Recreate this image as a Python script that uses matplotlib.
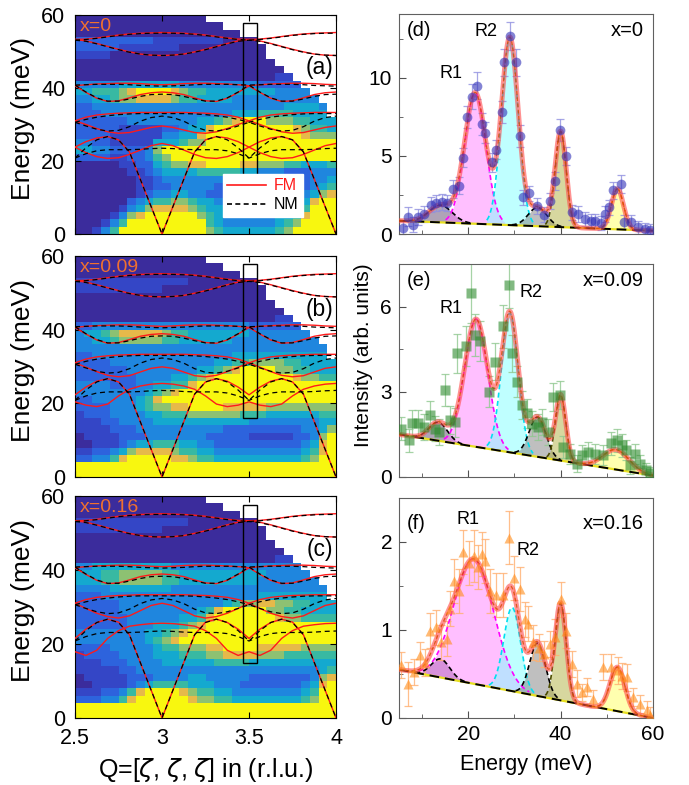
'''
    Inelastic maps along Q=[z,z,z] for three dopings (left column) and the
    energy cuts through the L point with their Gaussian fits (right column).
    The figure is written to out.png.
'''

import numpy as np
import matplotlib
matplotlib.use('Agg')
import matplotlib.pyplot as plt
from matplotlib.colors import ListedColormap
from matplotlib.lines import Line2D
from matplotlib.patches import Rectangle

plt.rcParams['font.family'] = ['Liberation Sans', 'DejaVu Sans']

_OUT_PNG = 'out.png'

DOPINGS = ['x=0', 'x=0.09', 'x=0.16']
MAP_TAGS = ['(a)', '(b)', '(c)']
CUT_TAGS = ['(d)', '(e)', '(f)']

Q_RANGE = (2.5, 4.0)
E_RANGE = (0, 60)
Q_TICKS = [2.5, 3, 3.5, 4]
Q_TICKLABELS = ['2.5', '3', '3.5', '4']
E_TICKS = [0, 20, 40, 60]

# ---- Intensity maps: one char per cell (0.05 r.l.u. x 2 meV), top row = 58-60 meV.
#      '.' = not measured, '0'..'8' = colour level (dark blue .. yellow)
MAP_A = [
    '000000000000000 ...............',
    '00000000000000000 .............',
    '0000000000000000000 ...........',
    '222222222111111110000 .........',
    '2222211111110000000000 ........',
    '1111000000000000000000 ........',
    '00000000000000000000000 .......',
    '000000000000000000000000 ......',
    '0000000000000000000000011 .....',
    '33333444444433333333322222 ....',
    '445556788887655444444443333 ...',
    '3344566777765544443333333333 ..',
    '22 3333333333333333333333 4444 3 .',
    '222 333333333333333 444 5555 4444 .',
    '222222 33333333 4456 7888 6665 5444',
    '22222 11111 22344 7888888888 76554',
    '2222 111111 3344 78888888888 87 666',
    '3322 11111 4445 66 888888888888888',
    '4433 22223 6 88888888888888888888',
    '2222 11223 56 8888888888888888888',
    '00000 1122 4566 77888877 666554445',
    '00000 0112 3444 45555544 33322 2333',
    '00000 0011 2333 33333322 22222 2334',
    '00000 0011 2233 33322211 11112 2345',
    '00000 0012 3344 33222111 11112 3467',
    '00000 0234 5566 54432221 11223 4788',
    '00000 1346 7777 65443332 22334 5888',
    '00001 3678 8888 86543333 33445 7888',
    '00013 5888 8888 88543333 33456 8888',
    '00135 8888 8888 88654444 44568 8888',
]
MAP_B = [
    '000000000000000 ...............',
    '00000000000000000 .............',
    '0000000000000000000 ...........',
    '111111111111100000000 .........',
    '1111111111000000000000 ........',
    '0000000000000000000000 ........',
    '00000000000000000000000 .......',
    '000000000000000000000000 ......',
    '0000000000000000000000011 .....',
    '22 333333333333333333 222222 ....',
    '3445677777 6554444444 3333333 ...',
    '3344566666 5544444433 33333333 ..',
    '33333333333333333333333333333 .',
    '22 3333333333333333 44444444444 .',
    '2222 333333333333 4455 6666 5544 44',
    '222222 33333333 4456 7888 8665 5444',
    '2222 22233 3344 567888888888 7665 5',
    '3333 22233 4455 788888888888888 88',
    '3333 3333 4567 888888888888888888',
    '2233 3334 5788 888888888888888888',
    '2222 3334 5667 788887777766666666',
    '1222 3333 4455 566666655544444455',
    '1112 2333 3444 444444443333333344',
    '1111 2223 3333 333332222222223346',
    '0111 1222 3333 333222221111122368',
    '0011 1234 4555 443322222222223478',
    '1122 3467 7776 554433333333334578',
    '2233 5788 8887 765544444444445688',
    '888888888888888888888888888888',
    '888888888888888888888888888888',
]
MAP_C = [
    '000000000000000 ...............',
    '00000000000000000 .............',
    '0000000000000000000 ...........',
    '111111111111100000000 .........',
    '1111111111000000000000 ........',
    '0000000000000000000000 ........',
    '00000000000000000000000 .......',
    '000000000000000000000000 ......',
    '0000000000000000000000011 .....',
    '33 444444444 333333333333333 ....',
    '4445566666 5544444444 4433333 ...',
    '4445566666 5544444444 43333333 ..',
    '3333 4444444 333333333333333333 .',
    '222 333333333333333333 44444444 .',
    '22222 333333333333 4566776655444',
    '22222 33333 3333 4578 8888 6655 4444',
    '22222 23333 3344 5788 8888 8766 5555',
    '22222 23334 4456 7888 8888 8888 8888',
    '33333 33344 5678 8888 8888 8888 8888',
    '33333 33345 6788 8888 8888 8888 8888',
    '22223 33334 5566 6778 8887 7777 6666',
    '12222 33334 4455 5667 7776 6655 5555',
    '11122 23333 4444 4455 5544 4444 4444',
    '11111 22333 3333 3333 3333 3333 3345',
    '01111 12223 3334 4333 3322 2222 2367',
    '00111 12345 5554 4433 3222 2222 3478',
    '11122 35788 8876 5544 3333 3333 4588',
    '22233 57888 8887 6655 4444 4444 5688',
    '888888888888888888888888888888',
    '888888888888888888888888888888',
]
MAPS = [MAP_A, MAP_B, MAP_C]

# Parula-like colour levels used by the maps
LEVEL_COLOURS = ['#3b2c9c', '#3446c6', '#2d63dd', '#1f86de', '#14a9cf',
                 '#38b9a2', '#8dc172', '#e6b94a', '#f8f70f']

# ---- Calculated dispersion (meV) on this Q grid
Q_DISP = [2.5, 2.5625, 2.625, 2.6875, 2.75, 2.8125, 2.875, 2.9375, 3.0,
          3.0625, 3.125, 3.1875, 3.25, 3.3125, 3.375, 3.4375, 3.5,
          3.5625, 3.625, 3.6875, 3.75, 3.8125, 3.875, 3.9375, 4.0]

FM_TOP1 = [53.3, 53.4, 53.7, 54.1, 54.5, 54.8, 55.0, 55.1, 55.2, 55.1, 55.0, 54.8, 54.5,
           54.1, 53.7, 53.4, 53.3, 53.4, 53.7, 54.1, 54.5, 54.8, 55.0, 55.1, 55.2]
FM_TOP2 = [53.3, 52.9, 52.2, 51.4, 50.6, 49.9, 49.3, 49.0, 48.9, 49.0, 49.3, 49.9, 50.6,
           51.4, 52.2, 52.9, 53.3, 52.9, 52.2, 51.4, 50.6, 49.9, 49.3, 49.0, 48.9]
FM_41 = [40.6, 40.9, 41.1, 41.2, 41.3, 41.3, 41.2, 41.0, 40.9, 41.0, 41.2, 41.3, 41.3,
         41.2, 41.1, 40.9, 40.6, 40.9, 41.1, 41.2, 41.3, 41.3, 41.2, 41.0, 40.9]
FM_38 = [40.6, 38.8, 37.2, 36.3, 36.5, 37.3, 38.2, 38.7, 38.9, 38.7, 38.2, 37.3, 36.5,
         36.3, 37.2, 38.8, 40.6, 38.8, 37.2, 36.3, 36.5, 37.3, 38.2, 38.7, 38.9]
FM_33 = [31.0, 32.0, 32.6, 32.9, 33.1, 33.2, 33.3, 33.3, 33.3, 33.3, 33.3, 33.2, 33.1,
         32.9, 32.6, 32.0, 31.0, 32.0, 32.6, 32.9, 33.1, 33.2, 33.3, 33.3, 33.3]
# Branches that move with doping: (a), (b), (c)
FM_29 = [
    [31.0, 30.0, 28.9, 28.0, 27.6, 27.8, 28.5, 29.2, 29.6, 29.2, 28.5, 27.8, 27.6,
     28.0, 28.9, 30.0, 31.0, 30.0, 28.9, 28.0, 27.6, 27.8, 28.5, 29.2, 29.6],
    [31.0, 29.8, 28.6, 27.6, 27.2, 27.5, 28.5, 29.5, 29.9, 29.5, 28.5, 27.5, 27.2,
     27.6, 28.6, 29.8, 31.0, 29.8, 28.6, 27.6, 27.2, 27.5, 28.5, 29.5, 29.9],
    [31.0, 29.6, 28.3, 27.4, 27.0, 27.6, 29.0, 30.4, 31.0, 30.4, 29.0, 27.6, 27.0,
     27.4, 28.3, 29.6, 31.0, 29.6, 28.3, 27.4, 27.0, 27.6, 29.0, 30.4, 31.0],
]
FM_ACOUSTIC = [
    [23.8, 25.3, 26.3, 26.7, 25.8, 22.5, 15.0, 7.5, 0.0, 7.5, 15.0, 22.5, 25.8,
     26.7, 26.3, 25.3, 23.8, 25.3, 26.3, 26.7, 25.8, 22.5, 15.0, 7.5, 0.0],
    [22.3, 24.4, 26.0, 26.7, 25.8, 22.5, 15.0, 7.5, 0.0, 7.5, 15.0, 22.5, 25.8,
     26.7, 26.0, 24.4, 22.3, 24.4, 26.0, 26.7, 25.8, 22.5, 15.0, 7.5, 0.0],
    [21.5, 24.0, 25.8, 26.7, 25.9, 22.5, 15.0, 7.5, 0.0, 7.5, 15.0, 22.5, 25.9,
     26.7, 25.8, 24.0, 21.5, 24.0, 25.8, 26.7, 25.9, 22.5, 15.0, 7.5, 0.0],
]
FM_22 = [
    [23.8, 22.3, 21.2, 20.7, 20.9, 21.8, 23.0, 24.2, 24.8, 24.2, 23.0, 21.8, 20.9,
     20.7, 21.2, 22.3, 23.8, 22.3, 21.2, 20.7, 20.9, 21.8, 23.0, 24.2, 24.8],
    [20.4, 19.5, 19.1, 19.8, 22.0, 23.8, 24.7, 25.2, 25.4, 25.2, 24.7, 23.8, 22.0,
     19.8, 19.1, 19.5, 20.4, 19.5, 19.1, 19.8, 22.0, 23.8, 24.7, 25.2, 25.4],
    [17.9, 16.9, 18.3, 21.5, 23.6, 24.8, 25.2, 25.5, 25.6, 25.5, 25.2, 24.8, 23.6,
     21.5, 18.3, 16.9, 17.9, 16.9, 18.3, 21.5, 23.6, 24.8, 25.2, 25.5, 25.6],
]

NM_TOP1 = [53.1, 53.3, 53.6, 54.0, 54.4, 54.7, 54.9, 55.0, 55.0, 55.0, 54.9, 54.7, 54.4,
           54.0, 53.6, 53.3, 53.1, 53.3, 53.6, 54.0, 54.4, 54.7, 54.9, 55.0, 55.0]
NM_TOP2 = [53.1, 52.8, 52.1, 51.3, 50.5, 49.8, 49.3, 49.0, 48.9, 49.0, 49.3, 49.8, 50.5,
           51.3, 52.1, 52.8, 53.1, 52.8, 52.1, 51.3, 50.5, 49.8, 49.3, 49.0, 48.9]
NM_41 = [40.8, 40.9, 41.0, 41.0, 41.0, 40.9, 40.7, 40.6, 40.5, 40.6, 40.7, 40.9, 41.0,
         41.0, 41.0, 40.9, 40.8, 40.9, 41.0, 41.0, 41.0, 40.9, 40.7, 40.6, 40.5]
NM_38 = [40.8, 38.9, 37.3, 36.4, 36.4, 37.0, 37.7, 38.2, 38.3, 38.2, 37.7, 37.0, 36.4,
         36.4, 37.3, 38.9, 40.8, 38.9, 37.3, 36.4, 36.4, 37.0, 37.7, 38.2, 38.3]
NM_33 = [30.6, 31.4, 32.0, 32.4, 32.7, 32.9, 33.0, 33.0, 33.0, 33.0, 33.0, 32.9, 32.7,
         32.4, 32.0, 31.4, 30.6, 31.4, 32.0, 32.4, 32.7, 32.9, 33.0, 33.0, 33.0]
NM_29 = [30.6, 29.6, 28.7, 28.2, 28.4, 29.4, 30.9, 31.9, 32.3, 31.9, 30.9, 29.4, 28.4,
         28.2, 28.7, 29.6, 30.6, 29.6, 28.7, 28.2, 28.4, 29.4, 30.9, 31.9, 32.3]
NM_ACOUSTIC = [20.8, 23.6, 25.8, 26.7, 25.8, 22.5, 15.0, 7.5, 0.0, 7.5, 15.0, 22.5, 25.8,
               26.7, 25.8, 23.6, 20.8, 23.6, 25.8, 26.7, 25.8, 22.5, 15.0, 7.5, 0.0]
NM_22 = [20.8, 22.0, 22.8, 23.1, 23.1, 23.1, 23.2, 23.4, 23.5, 23.4, 23.2, 23.1, 23.1,
         23.1, 22.8, 22.0, 20.8, 22.0, 22.8, 23.1, 23.1, 23.1, 23.2, 23.4, 23.5]

# Constant-Q window used for the cuts: Q range and E range per panel
CUT_Q = (3.464, 3.544)
CUT_E = [(15.5, 57.7), (15.9, 57.8), (14.8, 57.6)]

# ---- Energy cuts (meV, intensity, error)
D_E = [5.9, 7.0, 8.1, 9.1, 10.4, 11.9, 13.1, 14.3, 15.5, 16.7, 17.9, 18.8, 19.7, 20.8,
       21.9, 23.0, 23.7, 25.1, 26.0, 27.4, 27.8, 29.1, 30.3, 31.2, 31.8, 33.2, 34.8,
       36.3, 37.7, 38.8, 39.9, 41.1, 42.4, 43.8, 45.3, 46.5, 47.4, 48.8, 49.7, 50.5,
       51.4, 53.0, 53.7, 55.2, 56.8, 58.2, 59.3]
D_I = [0.36, 1.1, 0.6, 1.1, 1.28, 1.88, 2.0, 2.07, 1.98, 2.88, 3.09, 4.9, 7.5, 8.8,
       9.5, 7.04, 6.5, 4.6, 5.4, 7.8, 11.0, 12.7, 11.0, 6.3, 2.35, 2.6, 1.8, 1.24, 2.13,
       3.4, 6.65, 5.0, 1.39, 1.28, 0.96, 0.85, 0.85, 0.68, 1.28, 1.7, 2.8, 3.2, 0.75,
       0.75, 0.43, 0.32, 0.26]
D_ERR = [0.5, 0.6, 0.5, 0.5, 0.5, 0.5, 0.5, 0.5, 0.5, 0.55, 0.55, 0.6, 0.7, 0.8, 0.85,
         0.7, 0.7, 0.6, 0.6, 0.7, 0.85, 0.9, 0.85, 0.7, 0.5, 0.5, 0.5, 0.5, 0.5, 0.55,
         0.7, 0.6, 0.5, 0.5, 0.45, 0.45, 0.45, 0.45, 0.5, 0.5, 0.55, 0.6, 0.45, 0.45,
         0.4, 0.4, 0.4]

E_E = [5.5, 7.1, 7.8, 9.1, 10.4, 11.7, 12.7, 13.6, 15.0, 16.1, 17.2, 17.6, 19.6, 20.6,
       21.5, 22.6, 24.4, 25.7, 27.6, 28.9, 29.4, 30.5, 31.6, 32.7, 33.7, 35.0, 35.9,
       37.3, 38.4, 39.9, 40.6, 42.0, 43.6, 44.7, 46.0, 47.4, 49.2, 50.9, 52.1, 53.2,
       54.1, 55.0, 56.1, 57.1, 58.4, 59.3]
E_I = [1.7, 1.29, 1.9, 1.9, 1.76, 2.18, 1.7, 1.59, 3.06, 2.0, 1.92, 4.35, 4.6, 6.47,
       5.0, 4.8, 3.0, 4.06, 5.3, 6.76, 4.35, 3.35, 2.53, 2.24, 1.88, 1.76, 1.94, 1.59,
       2.82, 2.88, 1.06, 0.82, 0.47, 0.76, 0.88, 0.82, 0.76, 1.18, 1.29, 1.12, 0.94,
       0.41, 0.8, 0.47, 0.24, 0.14]
E_ERR = [0.4, 0.4, 0.45, 0.45, 0.45, 0.5, 0.45, 0.45, 0.55, 0.5, 0.5, 0.7, 0.7, 1.05,
         0.75, 0.7, 0.55, 0.65, 0.75, 0.8, 0.65, 0.55, 0.5, 0.5, 0.45, 0.45, 0.45, 0.45,
         0.5, 0.5, 0.4, 0.35, 0.3, 0.35, 0.35, 0.35, 0.35, 0.4, 0.4, 0.4, 0.35, 0.3,
         0.35, 0.3, 0.25, 0.2]

F_E = [5.5, 7.0, 8.2, 9.6, 10.7, 11.8, 13.1, 14.2, 15.4, 16.0, 16.8, 17.9, 18.8, 20.1,
       21.2, 22.1, 23.0, 23.7, 24.6, 26.0, 27.6, 28.9, 29.8, 31.2, 32.3, 33.0, 34.1,
       35.3, 36.5, 37.6, 38.8, 40.0, 41.2, 42.4, 43.6, 44.6, 45.8, 47.1, 49.2, 51.0,
       52.4, 53.2, 54.4, 55.7, 57.1, 58.6, 59.3]
F_I = [0.6, 0.39, 0.52, 0.71, 0.63, 0.99, 1.03, 0.86, 0.9, 1.24, 1.56, 1.44, 1.88, 1.76,
       1.84, 1.71, 1.86, 1.78, 1.44, 1.40, 1.40, 2.05, 1.59, 1.46, 1.12, 1.07, 0.86,
       0.80, 0.73, 0.84, 0.92, 1.35, 0.99, 0.61, 0.39, 0.29, 0.35, 0.22, 0.58, 0.58,
       0.54, 0.48, 0.46, 0.24, 0.16, 0.09, 0.03]
F_ERR = [0.15, 0.25, 0.15, 0.15, 0.15, 0.2, 0.2, 0.2, 0.2, 0.2, 0.25, 0.25, 0.25, 0.25,
         0.3, 0.25, 0.25, 0.25, 0.25, 0.25, 0.25, 0.3, 0.25, 0.25, 0.2, 0.2, 0.2, 0.15,
         0.15, 0.15, 0.2, 0.2, 0.2, 0.15, 0.15, 0.1, 0.1, 0.1, 0.15, 0.15, 0.15, 0.15,
         0.15, 0.1, 0.1, 0.1, 0.1]

# ---- Fit: linear background (value at 5 and at 60 meV) + six Gaussians
#      Peak order: low hump, R1, R2, 35 meV, 40 meV, 52 meV
D_BG = (0.85, 0.21)
D_CENTRE = [14.0, 21.5, 29.0, 35.0, 40.0, 52.3]
D_SIGMA = [2.5, 2.3, 1.8, 2.0, 1.2, 1.3]
D_AMP = [1.1, 8.4, 12.0, 1.2, 6.1, 2.6]

E_BG = (1.5, 0.05)
E_CENTRE = [13.5, 21.7, 29.0, 35.0, 40.0, 52.0]
E_SIGMA = [2.0, 2.5, 1.8, 1.8, 1.1, 2.8]
E_AMP = [0.65, 4.5, 4.9, 1.4, 2.3, 0.7]

F_BG = (0.55, 0.0)
F_CENTRE = [14.0, 21.2, 29.5, 35.0, 40.0, 52.3]
F_SIGMA = [2.0, 4.3, 1.8, 1.7, 1.2, 1.6]
F_AMP = [0.21, 1.42, 0.95, 0.6, 1.1, 0.5]

CUT_XRANGE = (5, 60)
CUT_YMAX = [14.1, 7.5, 2.5]
CUT_YTICKS = [[0, 5, 10], [0, 3, 6], [0, 1, 2]]
CUT_YMINOR = [[2.5, 7.5, 12.5], [1.5, 4.5], [0.5, 1.5]]
R1_POS = [(16.2, 10.3), (16.2, 5.92), (20.0, 2.26)]
R2_POS = [(23.9, 12.95), (33.6, 6.48), (32.9, 1.9)]

# Styles
_FM_COLOUR = '#ff1a1a'
_DOP_COLOUR = '#f07030'
_PEAK_FILL = ['#604870', '#ff80ff', '#80ffff', '#808080', '#b0b040', '#ffff60']
_PEAK_EDGE = ['black', '#ff00ff', '#00e0f0', 'black', '#4d4d00', '#e08000']
_MARKERS = [('o', '#3030b8', '#9090e0', 7.0),
            ('s', '#2e8b2e', '#90c890', 6.5),
            ('^', '#ff8c1a', '#ffb070', 7.5)]

_LEFT_BOXES = [[0.1089, 0.7019, 0.3788, 0.2790],
               [0.1089, 0.3924, 0.3788, 0.2815],
               [0.1089, 0.0854, 0.3788, 0.2828]]
_RIGHT_BOXES = [[0.5791, 0.7019, 0.3687, 0.2803],
                [0.5791, 0.3924, 0.3687, 0.2713],
                [0.5791, 0.0854, 0.3687, 0.2803]]


def map_to_array(rows):
    ''' Turn the character rows into an (E x Q) array, lowest energy first '''
    grid = []
    for row in rows:
        row = row.replace(' ', '')
        assert len(row) == 30, 'Bad map row {}'.format(row)
        grid.append([np.nan if ch == '.' else float(ch) for ch in row])
    return np.ma.masked_invalid(np.array(grid[::-1]))


def plot_map(ax, i):
    ''' Colour map, FM/NM dispersion curves and the cut window for panel i '''
    grid = map_to_array(MAPS[i])
    q_edges = np.linspace(Q_RANGE[0], Q_RANGE[1], grid.shape[1] + 1)
    e_edges = np.linspace(E_RANGE[0], E_RANGE[1], grid.shape[0] + 1)
    cmap = ListedColormap(LEVEL_COLOURS)
    ax.pcolormesh(q_edges, e_edges, grid, cmap=cmap, vmin=-0.5,
                  vmax=len(LEVEL_COLOURS) - 0.5, shading='flat')
    fm = [FM_TOP1, FM_TOP2, FM_41, FM_38, FM_33, FM_29[i], FM_ACOUSTIC[i], FM_22[i]]
    nm = [NM_TOP1, NM_TOP2, NM_41, NM_38, NM_33, NM_29, NM_ACOUSTIC, NM_22]
    for branch in fm:
        ax.plot(Q_DISP, branch, color=_FM_COLOUR, lw=1.0, zorder=3)
    for branch in nm:
        ax.plot(Q_DISP, branch, color='black', lw=0.9, ls=(0, (4, 3)), zorder=4)
    e0, e1 = CUT_E[i]
    ax.add_patch(Rectangle((CUT_Q[0], e0), CUT_Q[1] - CUT_Q[0], e1 - e0,
                           fill=False, edgecolor='black', lw=1.0, zorder=5))
    ax.set_xlim(*Q_RANGE)
    ax.set_ylim(*E_RANGE)
    ax.set_xticks(Q_TICKS)
    ax.set_yticks(E_TICKS)
    ax.tick_params(direction='in', length=4, top=True, right=True,
                   labelsize=15.5, pad=7)
    ax.text(0.02, 0.988, DOPINGS[i], transform=ax.transAxes, ha='left', va='top',
            color=_DOP_COLOUR, fontsize=14)
    ax.text(3.985, 45.5, MAP_TAGS[i], ha='right', va='center', fontsize=16.5)
    ax.set_ylabel('Energy (meV)', fontsize=19)
    ax.yaxis.set_label_coords(-0.153, 0.527)
    if i == 2:
        ax.set_xticklabels(Q_TICKLABELS)
        ax.set_xlabel(r'Q=[$\zeta$, $\zeta$, $\zeta$] in (r.l.u.)', fontsize=18)
        ax.xaxis.set_label_coords(0.5, -0.17)
    else:
        ax.set_xticklabels([])
    if i == 0:
        handles = [Line2D([], [], color=_FM_COLOUR, lw=1.2),
                   Line2D([], [], color='black', lw=1.2, ls=(0, (3, 2)))]
        leg = ax.legend(handles, ['FM', 'NM'], loc='lower left',
                        bbox_to_anchor=(0.535, 0.04), fancybox=False,
                        edgecolor='white', framealpha=1, fontsize=11.5,
                        handlelength=2.4, borderpad=0.3, labelspacing=0.25,
                        handletextpad=0.5)
        leg.get_texts()[0].set_color(_FM_COLOUR)
        leg.set_zorder(6)


def plot_cut(ax, i, energy, inten, err, bg, centres, sigmas, amps):
    ''' Data points with error bars, fitted components and total fit '''
    e = np.linspace(CUT_XRANGE[0], CUT_XRANGE[1], 600)
    base = bg[0] + (bg[1] - bg[0]) * (e - CUT_XRANGE[0]) / (CUT_XRANGE[1] - CUT_XRANGE[0])
    total = base.copy()
    for k, (c, s, a) in enumerate(zip(centres, sigmas, amps)):
        comp = a * np.exp(-0.5 * ((e - c) / s) ** 2)
        total += comp
        show = comp > 0.02 * a
        ax.fill_between(e, base, base + comp, where=show, color=_PEAK_FILL[k],
                        alpha=0.5, lw=0, zorder=1)
        edge = np.where(show, base + comp, np.nan)
        ax.plot(e, edge, color=_PEAK_EDGE[k], lw=1.2, ls=(0, (3, 2)), zorder=5)
    ax.plot(e, base, color='#e8e020', lw=1.6, zorder=4)
    ax.plot(e, base, color='black', lw=1.4, ls=(0, (5, 3)), zorder=4)
    ax.plot(e, total, color='#ff4a4a', lw=3.6, alpha=0.6, zorder=6,
            solid_capstyle='round')
    ax.plot(e, total, color='#d84a00', lw=0.9, ls=(0, (3, 2)), alpha=0.8, zorder=6)

    marker, face, bar, size = _MARKERS[i]
    ax.errorbar(energy, inten, yerr=err, fmt='none', ecolor=bar, elinewidth=0.9,
                capsize=3, capthick=0.9, alpha=0.8, zorder=2)
    ax.plot(energy, inten, ls='none', marker=marker, ms=size, mfc=face,
            mec='none', alpha=0.6, zorder=7)

    ax.set_xlim(*CUT_XRANGE)
    ax.set_ylim(0, CUT_YMAX[i])
    ax.set_xticks([20, 40, 60])
    ax.set_xticks([10, 30, 50], minor=True)
    ax.set_yticks(CUT_YTICKS[i])
    ax.set_yticks(CUT_YMINOR[i], minor=True)
    ax.tick_params(which='major', direction='in', length=5, labelsize=15, pad=5,
                   color='#505050')
    ax.tick_params(which='minor', direction='in', length=3, color='#505050')
    for sp in ax.spines.values():
        sp.set_color('#606060')
    ytop = [0.97, 0.965, 0.925][i]
    ax.text(0.03, ytop, CUT_TAGS[i], transform=ax.transAxes, ha='left', va='top',
            fontsize=14.5)
    ax.text(0.965, ytop, DOPINGS[i], transform=ax.transAxes, ha='right', va='top',
            fontsize=14.5)
    ax.text(*R1_POS[i], 'R1', ha='center', va='center', fontsize=13)
    ax.text(*R2_POS[i], 'R2', ha='center', va='center', fontsize=13)
    if i == 1:
        ax.set_ylabel('Intensity (arb. units)', fontsize=15)
        ax.yaxis.set_label_coords(-0.102, 0.57)
    if i == 2:
        ax.set_xlabel('Energy (meV)', fontsize=15.5)
        ax.xaxis.set_label_coords(0.5, -0.165)
    else:
        ax.set_xticklabels([])


if __name__ == '__main__':
    fig = plt.figure(figsize=(6.89, 7.85), dpi=100)
    for i in range(3):
        plot_map(fig.add_axes(_LEFT_BOXES[i]), i)
    cuts = [(D_E, D_I, D_ERR, D_BG, D_CENTRE, D_SIGMA, D_AMP),
            (E_E, E_I, E_ERR, E_BG, E_CENTRE, E_SIGMA, E_AMP),
            (F_E, F_I, F_ERR, F_BG, F_CENTRE, F_SIGMA, F_AMP)]
    for i, cut in enumerate(cuts):
        plot_cut(fig.add_axes(_RIGHT_BOXES[i]), i, *cut)
    fig.savefig(_OUT_PNG, dpi=100)
